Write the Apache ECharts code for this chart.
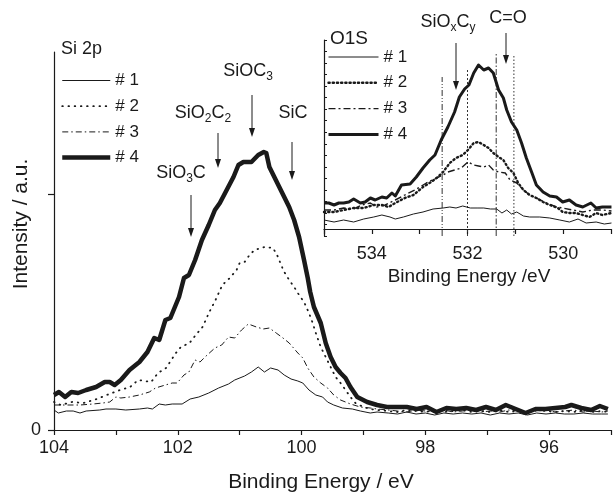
<!DOCTYPE html>
<html><head><meta charset="utf-8">
<script src="https://cdn.jsdelivr.net/npm/echarts@6/dist/echarts.min.js"></script>
<style>html,body{margin:0;padding:0;background:#fff}#c{width:614px;height:493px}</style>
</head><body><div id="c"></div>
<script>
// ---------- Si 2p (main plot) ----------
const E4 = [104.0,103.92,103.82,103.72,103.61,103.48,103.32,103.18,103.10,103.02,102.92,102.78,102.62,102.49,102.38,102.30,102.20,102.12,101.98,101.90,101.82,101.72,101.61,101.50,101.40,101.32,101.21,101.10,101.02,100.94,100.81,100.70,100.61,100.57,100.52,100.44,100.36,100.28,100.20,100.12,100.04,99.96,99.90,99.86,99.80,99.69,99.61,99.53,99.45,99.37,99.29,99.21,99.10,98.94,98.78,98.62,98.46,98.30,98.14,97.98,97.82,97.66,97.50,97.34,97.18,97.02,96.86,96.70,96.54,96.38,96.22,96.06,95.90,95.74,95.64,95.48,95.32,95.18,95.05];
const I4 = [35,38,33,38,37,40,43,48,48,45,50,60,68,78,92,90,110,112,133,152,155,170,190,205,220,227,240,253,265,268,268,275,278,277,263,253,243,233,223,210,193,170,152,138,123,107,87,73,63,57,52,43,33,28,25,23,23,23,21,23,18,22,21,22,20,23,20,25,21,17,21,21,22,23,25,22,20,24,21];

const E2 = [104.0,103.89,103.71,103.52,103.31,103.15,102.93,102.77,102.64,102.43,102.32,102.19,102.03,101.95,101.81,101.71,101.60,101.49,101.39,101.28,101.16,101.05,101.00,100.92,100.84,100.76,100.60,100.46,100.38,100.33,100.28,100.20,100.12,100.04,99.96,99.88,99.82,99.77,99.69,99.61,99.53,99.45,99.37,99.29,99.21,99.13,99.00,98.89,98.78];
const I2 = [28,25,28,27,31,35,40,43,50,48,57,62,77,83,87,95,103,118,130,145,152,160,167,168,175,180,183,182,173,165,158,150,143,135,128,117,107,97,83,73,63,53,47,40,33,27,23,21,20];

const E3 = [104.0,103.80,103.58,103.37,103.21,103.10,103.00,102.92,102.78,102.62,102.46,102.36,102.20,102.09,102.01,101.90,101.82,101.72,101.64,101.56,101.40,101.29,101.18,101.08,100.97,100.86,100.73,100.62,100.52,100.41,100.30,100.20,100.06,99.98,99.90,99.80,99.69,99.58,99.48,99.37,99.21,99.05,98.89,98.78];
const I3 = [25,25,25,26,27,28,33,32,33,35,38,42,45,47,47,55,58,70,68,73,82,85,93,92,100,106,103,101,102,97,92,87,77,72,62,53,47,42,35,30,26,23,22,21];

const E1 = [104.0,103.93,103.80,103.69,103.58,103.48,103.26,103.16,103.00,102.84,102.62,102.49,102.41,102.30,102.20,102.09,101.93,101.80,101.66,101.50,101.34,101.18,101.08,100.92,100.81,100.70,100.60,100.50,100.38,100.28,100.17,100.06,99.98,99.88,99.77,99.66,99.58,99.48,99.34,99.18,99.05,98.89,98.78];
const I1 = [20,17,19,19,17,19,20,21,21,20,21,22,21,26,25,26,26,31,33,37,42,46,50,54,58,63,58,62,60,55,51,49,47,40,35,33,28,25,22,21,19,17,18];

// flat tail (98.6 .. 95.05 eV) for #1..#3
const TAIL_E = [98.6,98.45,98.3,98.15,98.0,97.85,97.7,97.55,97.4,97.25,97.1,96.95,96.8,96.65,96.5,96.35,96.2,96.05,95.9,95.75,95.6,95.45,95.3,95.15,95.05];
const TAIL1 = [17,16,18,16,17,15,17,16,17,16,17,15,17,16,17,15,17,16,17,16,16,17,16,16,16];
const TAIL2 = [19,18,20,19,18,20,18,19,20,18,19,18,20,18,19,18,20,19,18,19,18,20,18,19,18];
const TAIL3 = [20,19,18,20,19,18,20,18,19,20,18,19,18,20,19,18,19,20,18,19,20,18,19,18,19];

// ---------- O 1s (inset) ----------
const O4E = [535.0,534.90,534.79,534.69,534.59,534.48,534.38,534.24,534.14,534.03,533.93,533.79,533.69,533.58,533.51,533.38,533.20,533.07,532.93,532.79,532.68,532.55,532.41,532.27,532.17,532.06,531.97,531.87,531.77,531.66,531.56,531.46,531.35,531.25,531.18,531.08,530.97,530.87,530.77,530.66,530.56,530.42,530.28,530.14,530.01,529.87,529.73,529.59,529.42,529.31,529.18,528.99];
const O4I = [26,26,24,26,26,27,30,26,27,31,29,32,31,36,33,44,45,52,61,69,74,89,102,117,132,140,144,156,164,159,161,156,139,131,119,107,99,86,71,57,44,37,33,32,27,29,24,22,26,21,22,22];

const O2E = [535.0,534.79,534.59,534.38,534.17,533.96,533.79,533.65,533.51,533.31,533.13,532.93,532.76,532.62,532.51,532.37,532.24,532.10,531.99,531.87,531.77,531.66,531.56,531.46,531.35,531.25,531.15,531.04,530.94,530.83,530.70,530.56,530.42,530.28,530.11,530.01,529.87,529.73,529.59,529.45,529.31,529.18,528.99];
const O2I = [17,17,19,21,21,24,24,22,26,31,34,42,47,52,57,66,71,74,79,86,87,84,81,76,72,69,61,56,46,39,34,31,27,24,21,17,16,16,14,12,16,14,16];

const O3E = [535.0,534.79,534.59,534.38,534.21,534.03,533.90,533.72,533.51,533.31,533.10,532.86,532.65,532.51,532.41,532.27,532.13,531.99,531.87,531.77,531.66,531.56,531.46,531.35,531.21,531.11,530.97,530.83,530.70,530.56,530.35,530.14,530.01,529.80,529.59,529.38,529.18,528.99];
const O3I = [19,19,21,20,24,26,22,24,29,34,39,46,51,54,57,59,61,67,64,63,62,64,59,57,56,49,46,39,34,31,26,22,21,19,17,19,19,18];

const O1E = [535.0,534.79,534.59,534.38,534.17,533.96,533.79,533.62,533.51,533.34,533.13,532.93,532.72,532.51,532.37,532.24,532.10,531.94,531.80,531.66,531.52,531.39,531.28,531.18,531.08,530.97,530.83,530.70,530.49,530.28,530.07,529.87,529.69,529.52,529.31,529.14,528.99];
const O1I = [9,7,9,7,10,12,14,12,10,12,15,17,20,21,22,21,23,21,21,21,20,20,16,19,15,17,13,12,12,11,9,7,10,6,7,5,6];

// reference lines in the inset (eV, top height)
const REF_E = [532.53, 532.0, 531.4, 531.03];
const REF_TOP = [152, 161, 176, 175];

const SERIES_NAMES = ['# 1', '# 2', '# 3', '# 4'];
const INSET_NAMES = ['# 1 ', '# 2 ', '# 3 ', '# 4 '];
const MAIN_TICKS = [104, 102, 100, 98, 96];
const INSET_TICKS = [534, 532, 530];

// ---------- chart ----------
const FONT = '"Liberation Sans", Arial, Helvetica, sans-serif';
const INK = '#1a1a1a';
const zip = (e, v) => e.map((x, i) => [x, v[i]]);
const chart = echarts.init(document.getElementById('c'), null, {renderer: 'canvas'});

function line(name, data, gi, style, z) {
  return {
    name, type: 'line', xAxisIndex: gi, yAxisIndex: gi, data,
    symbol: 'none', smooth: false, silent: true, z: z || 2,
    itemStyle: {color: INK},
    lineStyle: Object.assign({color: INK, join: 'round'}, style)
  };
}
function arrow(x, y1, y2) {
  return [
    {type: 'line', shape: {x1: x, y1: y1, x2: x, y2: y2 - 7}, style: {stroke: INK, lineWidth: 1}},
    {type: 'polygon', shape: {points: [[x - 3, y2 - 9], [x + 3, y2 - 9], [x, y2]]}, style: {fill: INK}}
  ];
}
function label(text, x, y, size, align) {
  return {
    type: 'text', x, y,
    style: {
      text, fill: INK, fontSize: size || 18, fontFamily: FONT,
      align: align || 'center', verticalAlign: 'middle', lineHeight: 24,
      rich: {s: {fontSize: 12, fontFamily: FONT, fill: INK, verticalAlign: 'bottom', lineHeight: 12}}
    }
  };
}

const series = [
  line(SERIES_NAMES[0], zip(E1.concat(TAIL_E), I1.concat(TAIL1)), 0, {width: 1}),
  line(SERIES_NAMES[2], zip(E3.concat(TAIL_E), I3.concat(TAIL3)), 0, {width: 1, type: [6, 3, 1.5, 3]}),
  line(SERIES_NAMES[1], zip(E2.concat(TAIL_E), I2.concat(TAIL2)), 0, {width: 1.8, type: [0.6, 5.6], cap: 'round'}),
  line(SERIES_NAMES[3], zip(E4, I4), 0, {width: 4.5}, 3),
  line(INSET_NAMES[0], zip(O1E, O1I), 1, {width: 1}),
  line(INSET_NAMES[2], zip(O3E, O3I), 1, {width: 1.4, type: [7, 3, 2, 3]}),
  line(INSET_NAMES[1], zip(O2E, O2I), 1, {width: 2.4, type: [1.2, 3], cap: 'round'}),
  line(INSET_NAMES[3], zip(O4E, O4I), 1, {width: 3}, 3)
];
const refTypes = [[6, 2, 1, 2, 1, 2], [2, 2], [6, 2, 1.5, 2], [1.5, 2]];
REF_E.forEach((e, i) => {
  series.push(line('ref' + i, [[e, -7], [e, REF_TOP[i]]], 1, {width: 1, color: '#333', type: refTypes[i]}, 1));
});

const axisLine = {lineStyle: {color: INK, width: 1.2}};
const tickStyle = {color: INK, width: 1.2};
const lblStyle = {color: INK, fontSize: 18, fontFamily: FONT};

const legendBase = {
  orient: 'vertical', itemHeight: 14, padding: 0, selectedMode: false,
  textStyle: {color: INK, fontSize: 17, fontFamily: FONT, lineHeight: 14},
  itemStyle: {opacity: 0, borderWidth: 0},
  lineStyle: {width: 'inherit'}
};

chart.setOption({
  animation: false,
  backgroundColor: '#fff',
  grid: [
    {left: 54, top: 52, width: 562.5, height: 378},
    {left: 324, top: 40, width: 289.5, height: 196}
  ],
  xAxis: [
    {gridIndex: 0, type: 'value', min: 95, max: 104, interval: 1, inverse: true,
     axisLine, axisTick: {length: 5, lineStyle: tickStyle}, splitLine: {show: false},
     axisLabel: Object.assign({margin: 9, formatter: v => MAIN_TICKS.includes(v) ? String(v) : ''}, lblStyle)},
    {gridIndex: 1, type: 'value', min: 529, max: 535, interval: 1, inverse: true,
     axisLine, axisTick: {length: 5, lineStyle: tickStyle}, splitLine: {show: false},
     axisLabel: Object.assign({margin: 9, formatter: v => INSET_TICKS.includes(v) ? String(v) : ''}, lblStyle)}
  ],
  yAxis: [
    {gridIndex: 0, type: 'value', min: 0, max: 378, interval: 236,
     axisLine: Object.assign({show: true}, axisLine),
     axisTick: {show: true, length: 6, lineStyle: tickStyle, customValues: [0, 236]},
     axisLabel: Object.assign({margin: 13, customValues: [0], formatter: v => v === 0 ? '0' : ''}, lblStyle),
     splitLine: {show: false}},
    {gridIndex: 1, type: 'value', min: -7, max: 189, interval: 11.53,
     axisLine: Object.assign({show: true}, axisLine),
     axisTick: {show: true, inside: true, length: 3, lineStyle: {color: INK, width: 1}},
     axisLabel: {show: false}, splitLine: {show: false}}
  ],
  legend: [
    Object.assign({data: SERIES_NAMES, left: 60, top: 72, itemWidth: 48, itemGap: 8.7}, legendBase),
    Object.assign({data: INSET_NAMES, left: 327, top: 48.5, itemWidth: 50, itemGap: 8.8}, legendBase)
  ],
  series,
  graphic: [].concat(
    [label('Si 2p', 61, 49, 18, 'left'),
     label('O1S', 330, 39, 19, 'left'),
     label('SiOC{s|3}', 248, 71),
     label('SiO{s|2}C{s|2}', 203, 113),
     label('SiC', 293, 113),
     label('SiO{s|3}C', 181, 173),
     label('SiO{s|x}C{s|y}', 448, 22),
     label('C=O', 508, 18),
     label('Binding Energy / eV', 321, 482, 21),
     label('Binding Energy /eV', 469, 277, 19),
     Object.assign(label('Intensity / a.u.', 21, 224, 21), {rotation: Math.PI / 2})],
    arrow(252, 95, 137), arrow(218, 133, 168), arrow(292, 142, 180), arrow(191, 195, 237),
    arrow(456, 43, 90), arrow(506, 33, 64)
  )
});
</script>
</body></html>
